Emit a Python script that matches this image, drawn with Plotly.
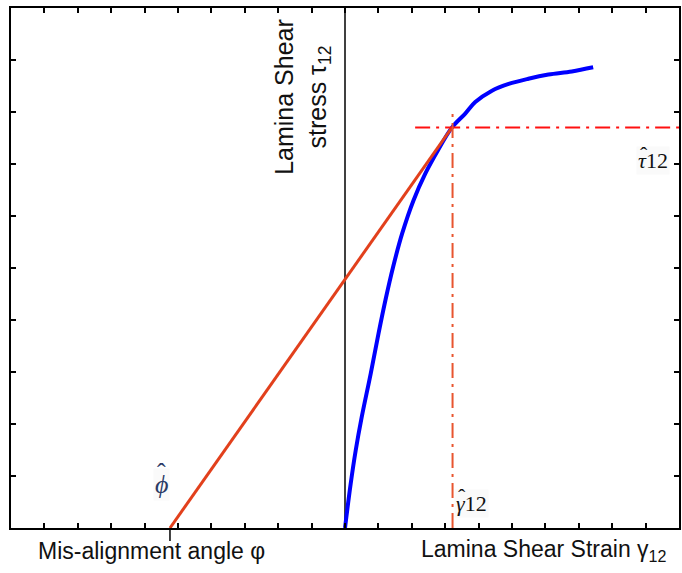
import plotly.graph_objects as go

# ---- data ----
strain_x = [10.0, 10.17, 10.32, 10.50, 10.77, 11.00, 11.21, 11.44, 11.71, 12.05,
            12.40, 12.78, 13.20, 13.60, 13.90, 14.40, 14.90, 15.49, 16.09, 16.79, 17.43]
stress_y = [0.0, 0.85, 1.49, 2.13, 2.97, 3.73, 4.38, 5.02, 5.66, 6.30,
            6.81, 7.26, 7.70, 7.97, 8.19, 8.41, 8.54, 8.64, 8.72, 8.78, 8.86]
tangent_x = [4.76, 13.20]
tangent_y = [0.0, 7.70]
stress_axis_x = 10.0
phi_hat = 4.76
gamma_hat = 13.22
tau_hat = 7.70
tau_line_x = [12.1, 20.0]
gamma_line_y = [0.0, 7.98]
x_range = [0, 20]
y_range = [0, 10]

fig = go.Figure()

fig.add_trace(go.Scatter(x=[stress_axis_x, stress_axis_x], y=y_range, mode="lines",
                         line=dict(color="black", width=1.5), showlegend=False))
fig.add_trace(go.Scatter(x=strain_x, y=stress_y, mode="lines",
                         line=dict(color="#0000FF", width=4, shape="spline", smoothing=1),
                         showlegend=False))
fig.add_trace(go.Scatter(x=tangent_x, y=tangent_y, mode="lines",
                         line=dict(color="#E2401C", width=3), showlegend=False))
fig.add_trace(go.Scatter(x=tau_line_x, y=[tau_hat, tau_hat], mode="lines",
                         line=dict(color="#FF1010", width=2, dash="15px,6px,3px,6px"),
                         showlegend=False))
fig.add_trace(go.Scatter(x=[gamma_hat, gamma_hat], y=gamma_line_y, mode="lines",
                         line=dict(color="#E8552F", width=2, dash="15px,6px,3px,6px"),
                         showlegend=False))

axis_common = dict(showgrid=False, zeroline=False, showline=True, linecolor="black",
                   linewidth=1.5, mirror="ticks", ticks="inside", ticklen=5,
                   tickcolor="black", tickwidth=1.5, showticklabels=False, dtick=1)

fig.update_layout(
    width=682, height=573,
    margin=dict(l=11, r=1, t=8, b=45),
    paper_bgcolor="white", plot_bgcolor="white",
    xaxis=dict(range=x_range, tick0=0, **axis_common),
    yaxis=dict(range=y_range, tick0=0, **axis_common),
    font=dict(family="Liberation Sans, Arial, sans-serif", color="#111111"),
)

fig.add_shape(type="line", xref="x", yref="paper", x0=phi_hat, x1=phi_hat,
              y0=0, y1=-0.025, line=dict(color="black", width=1.5))

sans = "Liberation Sans, Arial, sans-serif"
serif = "Liberation Serif, DejaVu Serif, serif"

fig.add_annotation(x=4.2, y=-0.044, xref="x", yref="paper",
                   text="Mis-alignment angle φ", showarrow=False,
                   font=dict(family=sans, size=23, color="#111111"),
                   xanchor="center", yanchor="middle")
fig.add_annotation(x=12.21, y=-0.044, xref="x", yref="paper",
                   text="Lamina Shear Strain γ<sub>12</sub>", showarrow=False,
                   font=dict(family=sans, size=23, color="#111111"),
                   xanchor="left", yanchor="middle")
fig.add_annotation(x=8.74, y=8.29, xref="x", yref="y",
                   text="Lamina Shear<br>stress τ<sub>12</sub>", showarrow=False,
                   textangle=-90, align="center",
                   font=dict(family=sans, size=25, color="#111111"),
                   xanchor="center", yanchor="middle")

# hatted symbols: letter + separate hat
fig.add_annotation(x=4.50, y=0.84, xref="x", yref="y",
                   text="<i>ϕ</i>", showarrow=False, bgcolor="#fafafa",
                   font=dict(family=serif, size=26, color="#2b3b66"))
fig.add_annotation(x=4.50, y=1.06, xref="x", yref="y",
                   text="ˆ", showarrow=False,
                   font=dict(family=serif, size=26, color="#2b3b66"))

fig.add_annotation(x=13.25, y=0.47, xref="x", yref="y", xanchor="left",
                   text="<i>γ</i>12", showarrow=False, bgcolor="#fafafa",
                   font=dict(family=serif, size=22, color="#111111"))
fig.add_annotation(x=13.49, y=0.60, xref="x", yref="y",
                   text="ˆ", showarrow=False,
                   font=dict(family=serif, size=22, color="#111111"))

fig.add_annotation(x=18.70, y=7.07, xref="x", yref="y", xanchor="left",
                   text="<i>τ</i>12", showarrow=False, bgcolor="#fafafa",
                   font=dict(family=serif, size=22, color="#111111"))
fig.add_annotation(x=18.94, y=7.19, xref="x", yref="y",
                   text="ˆ", showarrow=False,
                   font=dict(family=serif, size=22, color="#111111"))

fig.write_html("out.html")
